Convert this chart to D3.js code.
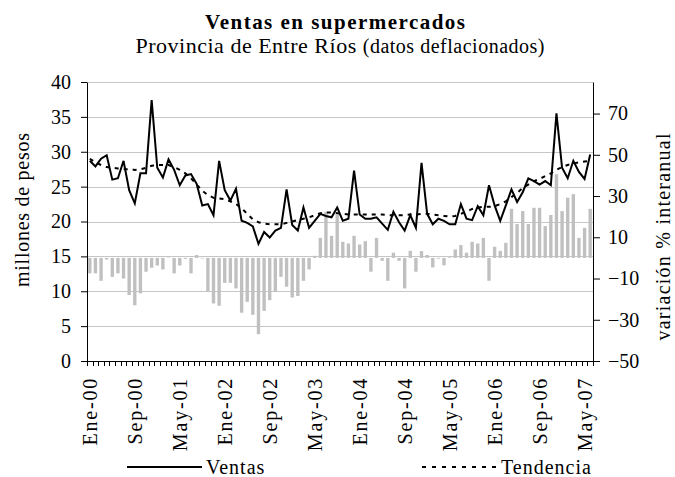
<!DOCTYPE html>
<html>
<head>
<meta charset="utf-8">
<title>Ventas en supermercados</title>
<script src="https://d3js.org/d3.v7.min.js"></script>
<style>
  body { margin: 0; background: #fff; }
  svg { display: block; font-family: "Liberation Serif", "Times New Roman", serif; }
</style>
</head>
<body>
<script>
// month names used to build the categories (Ene-00 ... Jun-07)
var meses = ["Ene","Feb","Mar","Abr","May","Jun","Jul","Ago","Sep","Oct","Nov","Dic"];

// labels shown on the x axis
var etiquetasX = ["Ene-00","Sep-00","May-01","Ene-02","Sep-02","May-03","Ene-04","Sep-04","May-05","Ene-06","Sep-06","May-07"];

// ventas mensuales, millones de pesos
var ventas = [
    28.7, 27.9, 29.0, 29.5, 26.0, 26.2, 28.7, 24.5, 22.6, 26.9, 26.9, 37.4,
    27.7, 26.3, 28.9, 27.4, 25.2, 26.6, 26.8, 25.4, 22.3, 22.5, 20.9, 28.7,
    24.5, 23.0, 24.7, 20.1, 19.8, 19.3, 16.8, 18.5, 17.7, 18.7, 19.1, 24.6,
    19.5, 18.7, 22.0, 19.1, 20.1, 21.1, 20.8, 20.6, 22.0, 20.1, 20.4, 27.3,
    21.0, 20.4, 20.4, 20.6, 19.7, 18.8, 21.4, 19.9, 18.7, 20.9, 19.1, 28.4,
    21.1, 19.6, 20.4, 20.1, 19.6, 19.6, 22.5, 20.4, 20.2, 22.2, 20.9, 25.2,
    22.3, 20.1, 22.3, 24.6, 22.8, 24.2, 26.2, 25.8, 25.3, 25.8, 25.2, 35.5,
    27.7, 26.2, 28.7, 27.1, 26.1, 29.6
];

// tendencia, millones de pesos
var tendencia = [
    29.0, 28.5, 28.1, 27.8, 27.7, 27.6, 27.5, 27.5, 27.4, 27.5, 27.7, 28.0,
    28.1, 28.1, 28.1, 27.8, 27.4, 26.9, 26.2, 25.3, 24.4, 23.8, 23.4, 23.3,
    23.2, 22.9, 22.5, 21.9, 21.1, 20.3, 19.9, 19.7, 19.6, 19.6, 19.6, 19.8,
    20.0, 20.2, 20.4, 20.6, 20.9, 21.2, 21.3, 21.3, 21.2, 21.1, 21.0, 21.0,
    21.0, 21.0, 21.0, 21.0, 21.0, 20.9, 20.9, 20.9, 20.9, 21.0, 21.0, 21.1,
    21.1, 21.0, 20.9, 20.8, 20.7, 20.8, 21.1, 21.4, 21.8, 22.0, 22.1, 22.1,
    22.2, 22.5, 22.9, 23.5, 24.1, 24.8, 25.3, 25.8, 26.1, 26.5, 26.9, 27.4,
    27.8, 28.1, 28.3, 28.5, 28.6, 28.7
];

// variacion % interanual (barras, eje derecho)
var variacion = [
    -7.5, -7.5, -11.1, -0.8, -9.2, -7.5, -10.0, -18.0, -23.0, -17.2, -6.7, -4.8,
    -3.7, -5.6, 0.2, -7.5, -3.7, -0.5, -7.5, 1.4, -0.3, -16.4, -22.1, -23.2,
    -12.1, -12.1, -14.8, -26.6, -21.3, -27.6, -37.0, -25.7, -20.5, -16.4, -9.2, -14.0,
    -19.2, -18.5, -11.1, -5.6, 1.0, 9.7, 22.4, 10.7, 21.6, 7.8, 7.0, 10.7,
    6.5, 8.1, -6.7, 9.7, -1.4, -11.1, 2.5, -1.4, -14.8, 3.4, -6.7, 3.3,
    1.4, -4.6, -0.4, -3.6, 0.3, 4.1, 6.2, 2.5, 7.8, 7.0, 9.7, -11.1,
    5.4, 3.4, 7.3, 23.8, 16.4, 22.7, 16.4, 24.3, 24.3, 15.4, 20.8, 40.6,
    22.7, 29.2, 30.9, 9.7, 14.6, 23.8
];

// axis ticks
var ticksIzq = [0, 5, 10, 15, 20, 25, 30, 35, 40];
var ticksDer = [-50, -30, -10, 10, 30, 50, 70];

// categories
var categorias = ventas.map(function(d, i){
    return meses[i % 12] + "-" + String(Math.floor(i / 12)).padStart(2, "0");
});

var W = 675, H = 477;
var margin = {top: 82, right: 82, bottom: 116, left: 87};

var svg = d3.select("body").append("svg")
    .attr("width", W)
    .attr("height", H);

// scales
var x = d3.scaleBand()
    .domain(categorias)
    .range([margin.left, W - margin.right]);
var bw = x.bandwidth();

var yIzq = d3.scaleLinear().domain([0, 40]).range([H - margin.bottom, margin.top]);
var yDer = d3.scaleLinear().domain([-50, 85.3]).range([H - margin.bottom, margin.top]);

// gridlines
svg.append("g").selectAll("line")
    .data(ticksIzq.filter(function(d){ return d > 0; }))
    .enter().append("line")
    .attr("x1", margin.left)
    .attr("x2", W - margin.right)
    .attr("y1", function(d){ return Math.round(yIzq(d)) + 0.5; })
    .attr("y2", function(d){ return Math.round(yIzq(d)) + 0.5; })
    .attr("stroke", "#c6c6c6")
    .attr("stroke-width", 1);

// bars
var barW = bw * 0.6;
svg.append("g").selectAll("rect")
    .data(variacion)
    .enter().append("rect")
    .attr("x", function(d, i){ return x(categorias[i]) + (bw - barW) / 2; })
    .attr("y", function(d){ return Math.min(yDer(d), yDer(0)); })
    .attr("width", barW)
    .attr("height", function(d){ return Math.abs(yDer(d) - yDer(0)); })
    .attr("fill", "#c0c0c0");

// lines
var linea = d3.line()
    .x(function(d, i){ return x(categorias[i]) + bw / 2; })
    .y(function(d){ return yIzq(d); });

svg.append("path")
    .datum(tendencia)
    .attr("d", linea)
    .attr("fill", "none")
    .attr("stroke", "#000")
    .attr("stroke-width", 2)
    .attr("stroke-dasharray", "4,5");

svg.append("path")
    .datum(ventas)
    .attr("d", linea)
    .attr("fill", "none")
    .attr("stroke", "#000")
    .attr("stroke-width", 2)
    .attr("stroke-linejoin", "miter");

// left axis
var ejeIzq = svg.append("g")
    .attr("transform", "translate(" + margin.left + ",0)")
    .call(d3.axisLeft(yIzq).tickValues(ticksIzq).tickSize(6).tickPadding(10).tickSizeOuter(0));

// right axis
var ejeDer = svg.append("g")
    .attr("transform", "translate(" + (W - margin.right) + ",0)")
    .call(d3.axisRight(yDer).tickValues(ticksDer).tickSize(7).tickPadding(8).tickSizeOuter(0));

[ejeIzq, ejeDer].forEach(function(g){
    g.attr("font-family", null).attr("font-size", null);
    g.selectAll("text").attr("font-size", "20px").attr("fill", "#000");
    g.selectAll("line, path").attr("stroke", "#000");
});

// bottom axis with rotated labels
var ejeX = svg.append("g")
    .attr("transform", "translate(0," + (H - margin.bottom) + ")")
    .call(d3.axisBottom(x).tickValues(etiquetasX).tickSize(0).tickPadding(0).tickSizeOuter(0));

ejeX.attr("font-family", null).attr("font-size", null);
ejeX.select(".domain").attr("stroke", "#000");
ejeX.selectAll("text")
    .attr("transform", "rotate(-90)")
    .attr("x", -16)
    .attr("y", 0)
    .attr("dy", "0.35em")
    .attr("text-anchor", "end")
    .attr("font-size", "20px")
    .attr("letter-spacing", "1.8px")
    .attr("fill", "#000");

// small tick marks between categories
var bordes = categorias.map(function(c){ return x(c); }).concat([x.range()[1]]);
ejeX.selectAll(".borde")
    .data(bordes)
    .enter().append("line")
    .attr("class", "borde")
    .attr("x1", function(d){ return Math.round(d) + 0.5; })
    .attr("x2", function(d){ return Math.round(d) + 0.5; })
    .attr("y1", 0)
    .attr("y2", 5)
    .attr("stroke", "#000");

// titles
svg.append("text")
    .attr("x", 335).attr("y", 29)
    .attr("text-anchor", "middle")
    .attr("font-weight", "bold")
    .attr("font-size", "21px")
    .attr("textLength", 260)
    .text("Ventas en supermercados");

var sub = svg.append("text")
    .attr("x", 340).attr("y", 53)
    .attr("text-anchor", "middle")
    .attr("textLength", 409);
sub.append("tspan").attr("font-size", "22px").text("Provincia de Entre Ríos ");
sub.append("tspan").attr("font-size", "20px").text("(datos deflacionados)");

// axis titles
svg.append("text")
    .attr("transform", "translate(22,210) rotate(-90)")
    .attr("text-anchor", "middle")
    .attr("dy", "0.35em")
    .attr("font-size", "20px")
    .attr("textLength", 154)
    .text("millones de pesos");

svg.append("text")
    .attr("transform", "translate(663,237) rotate(-90)")
    .attr("text-anchor", "middle")
    .attr("dy", "0.33em")
    .attr("font-size", "20px")
    .attr("textLength", 207)
    .text("variación % interanual");

// legend
var leyenda = [
    {nombre: "Ventas", x1: 127, x2: 202, dash: null},
    {nombre: "Tendencia", x1: 422, x2: 497, dash: "4,6"}
];
var ly = 467;
leyenda.forEach(function(l){
    svg.append("line")
        .attr("x1", l.x1).attr("x2", l.x2)
        .attr("y1", ly).attr("y2", ly)
        .attr("stroke", "#000")
        .attr("stroke-width", 2)
        .attr("stroke-dasharray", l.dash);
    svg.append("text")
        .attr("x", l.x2 + 4).attr("y", ly)
        .attr("dy", "0.35em")
        .attr("font-size", "20px")
        .attr("letter-spacing", "1px")
        .text(l.nombre);
});
</script>
</body>
</html>
